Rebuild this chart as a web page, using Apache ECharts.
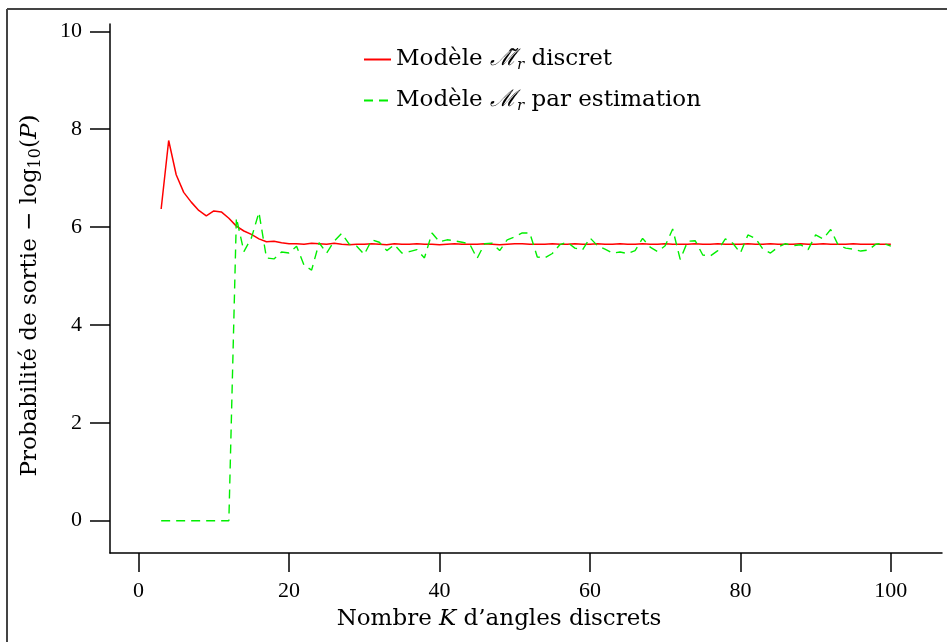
<!DOCTYPE html>
<html>
<head>
<meta charset="utf-8">
<script src="https://cdn.jsdelivr.net/npm/echarts@6/dist/echarts.min.js"></script>
<style>
  html, body { margin: 0; padding: 0; background: #fff; }
  #chart { width: 947px; height: 642px; }
</style>
</head>
<body>
<div id="chart"></div>
<script>
// nombre K d'angles discrets
var kValues = [];
for (var k = 3; k <= 100; k++) kValues.push(k);

// modele discret
var discretValues = [
  6.37, 7.77, 7.07, 6.71, 6.51, 6.34, 6.23, 6.33, 6.31, 6.18,
  6.02, 5.92, 5.85, 5.76, 5.70, 5.71, 5.68, 5.66, 5.66, 5.65,
  5.67, 5.66, 5.65, 5.67, 5.65, 5.64, 5.65, 5.65, 5.66, 5.65,
  5.64, 5.66, 5.65, 5.65, 5.66, 5.65, 5.65, 5.64, 5.65, 5.66,
  5.65, 5.65, 5.65, 5.66, 5.65, 5.64, 5.65, 5.66, 5.66, 5.65,
  5.65, 5.65, 5.66, 5.65, 5.65, 5.66, 5.65, 5.65, 5.66, 5.65,
  5.65, 5.66, 5.65, 5.65, 5.66, 5.65, 5.65, 5.66, 5.65, 5.65,
  5.65, 5.66, 5.65, 5.65, 5.66, 5.65, 5.65, 5.65, 5.66, 5.65,
  5.65, 5.66, 5.65, 5.65, 5.65, 5.66, 5.65, 5.65, 5.66, 5.65,
  5.65, 5.65, 5.66, 5.65, 5.65, 5.65, 5.65, 5.65
];

// modele par estimation
var estimValues = [
  0, 0, 0, 0, 0, 0, 0, 0, 0, 0,
  6.19, 5.50, 5.78, 6.30, 5.37, 5.35, 5.49, 5.47, 5.61, 5.22,
  5.12, 5.68, 5.47, 5.71, 5.87, 5.65, 5.61, 5.44, 5.74, 5.69,
  5.52, 5.64, 5.47, 5.50, 5.54, 5.37, 5.88, 5.70, 5.74, 5.72,
  5.69, 5.66, 5.36, 5.66, 5.67, 5.52, 5.74, 5.80, 5.88, 5.88,
  5.39, 5.37, 5.46, 5.64, 5.69, 5.57, 5.53, 5.78, 5.62, 5.55,
  5.47, 5.49, 5.46, 5.52, 5.77, 5.59, 5.50, 5.62, 5.96, 5.34,
  5.71, 5.72, 5.43, 5.41, 5.52, 5.76, 5.67, 5.47, 5.84, 5.77,
  5.55, 5.47, 5.59, 5.66, 5.62, 5.64, 5.54, 5.84, 5.76, 5.95,
  5.63, 5.57, 5.55, 5.51, 5.53, 5.65, 5.67, 5.61
];

var xTicks = [0, 20, 40, 60, 80, 100];
var yTicks = [0, 2, 4, 6, 8, 10];

var serif = 'Liberation Serif, DejaVu Serif, serif';
var wide = 'DejaVu Serif, serif';

function pairs(vals) {
  return kValues.map(function (k, i) { return [k, vals[i]]; });
}

var richText = {
  i: { fontFamily: wide, fontSize: 23, fontStyle: 'italic', color: '#000' },
  m: { fontFamily: wide, fontSize: 23, fontStyle: 'italic', color: '#000' },
  s: { fontFamily: wide, fontSize: 15, fontStyle: 'italic', color: '#000', padding: [11, 0, 0, 0] },
  n: { fontFamily: wide, fontSize: 16, color: '#000', padding: [11, 0, 0, 0] }
};

var myChart = echarts.init(document.getElementById('chart'));

var options = {
  animation: false,
  backgroundColor: '#fff',
  grid: { left: 110, right: 5, top: 24, bottom: 89 },
  legend: {
    orient: 'vertical',
    left: 358,
    top: 40,
    itemWidth: 27,
    itemHeight: 14,
    itemGap: 12,
    data: ['discret', 'estimation'],
    itemStyle: { opacity: 0 },
    formatter: function (name) {
      if (name === 'discret') return 'Modèle {m|ℳ̃}{s|r} discret';
      return 'Modèle {m|ℳ}{s|r} par estimation';
    },
    textStyle: { fontFamily: wide, fontSize: 23, color: '#000', lineHeight: 29, rich: richText }
  },
  xAxis: {
    type: 'value',
    min: -3.8,
    max: 106.8,
    name: 'Nombre {i|K} d’angles discrets',
    nameLocation: 'middle',
    nameGap: 55,
    nameTextStyle: { fontFamily: wide, fontSize: 23, color: '#000', padding: [0, 54, 0, 0], rich: richText },
    splitLine: { show: false },
    axisLine: { onZero: false, lineStyle: { color: '#000', width: 1.5 } },
    axisTick: { customValues: xTicks, length: 19, lineStyle: { color: '#000', width: 1.5 } },
    axisLabel: { customValues: xTicks, margin: 27, fontFamily: serif, fontSize: 22, color: '#000' }
  },
  yAxis: {
    type: 'value',
    min: -0.66,
    max: 10.15,
    name: 'Probabilité de sortie − log{n|10}({i|P})',
    nameLocation: 'middle',
    nameRotate: 90,
    nameGap: 66,
    nameTextStyle: { fontFamily: wide, fontSize: 23, color: '#000', padding: [0, 14, 0, 0], rich: richText },
    splitLine: { show: false },
    axisLine: { onZero: false, lineStyle: { color: '#000', width: 1.5 } },
    axisTick: { customValues: yTicks, length: 20, lineStyle: { color: '#000', width: 1.5 } },
    axisLabel: { customValues: yTicks, margin: 28, fontFamily: serif, fontSize: 22, color: '#000' }
  },
  series: [
    {
      name: 'discret',
      type: 'line',
      data: pairs(discretValues),
      symbol: 'none',
      lineStyle: { color: '#ff0000', width: 1.5 },
      itemStyle: { color: '#ff0000' }
    },
    {
      name: 'estimation',
      type: 'line',
      data: pairs(estimValues),
      symbol: 'none',
      lineStyle: { color: '#00ee00', width: 1.4, type: [9, 6] },
      itemStyle: { color: '#00ee00' }
    }
  ],
  // cadre de la figure
  graphic: [
    { type: 'line', shape: { x1: 7, y1: 9, x2: 947, y2: 9 }, style: { stroke: '#444', lineWidth: 2 } },
    { type: 'line', shape: { x1: 7, y1: 9, x2: 7, y2: 642 }, style: { stroke: '#444', lineWidth: 2 } }
  ]
};

myChart.setOption(options);
</script>
</body>
</html>
